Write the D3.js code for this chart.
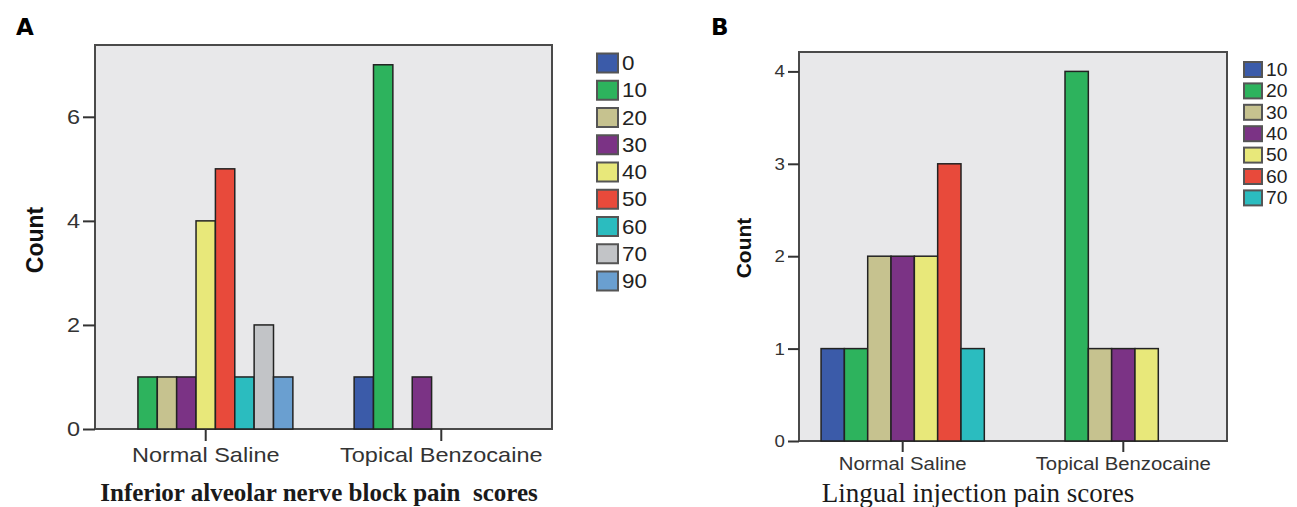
<!DOCTYPE html>
<html><head><meta charset="utf-8">
<script src="https://cdn.jsdelivr.net/npm/d3@7"></script>
<style>html,body{margin:0;padding:0;background:#fff;}svg{display:block;}</style>
</head><body><svg id="c" width="1297" height="507"></svg>
<script>
// ---- data ----
const groups = ["Normal Saline", "Topical Benzocaine"];
const scoresA = ["0", "10", "20", "30", "40", "50", "60", "70", "90"];
const salineA = [0, 1, 1, 1, 4, 5, 1, 2, 1];
const benzoA  = [1, 7, 0, 1, 0, 0, 0, 0, 0];
const ticksA = [0, 2, 4, 6];
const scoresB = ["10", "20", "30", "40", "50", "60", "70"];
const salineB = [1, 1, 2, 2, 2, 3, 1];
const benzoB  = [0, 4, 1, 1, 1, 0, 0];
const ticksB = [0, 1, 2, 3, 4];
const paletteA = ["#3b5ba9","#2db35d","#c6c28f","#7b3385","#e8e87a","#e84a3b","#2bbcbf","#c2c4c7","#6a9fd0"];
const paletteB = ["#3b5ba9","#2db35d","#c6c28f","#7b3385","#e8e87a","#e84a3b","#2bbcbf"];

const svg = d3.select("#c");
const SANS = "Liberation Sans, Arial, sans-serif";

function stretch(sel, sx, origin) {
  sel.style("transform-box", "fill-box").style("transform-origin", origin)
     .style("transform", `scaleX(${sx})`);
}

function panel(cfg) {
  const g = svg.append("g");
  const x0 = d3.scaleBand().domain(groups).range([cfg.left, cfg.right]).paddingInner(0.26).paddingOuter(0.1);
  const x1 = d3.scaleBand().domain(cfg.scores).range([0, x0.bandwidth()]);
  const y = d3.scaleLinear().domain([0, cfg.ymax]).range([cfg.bottom, cfg.top]);
  const color = d3.scaleOrdinal().domain(cfg.scores).range(cfg.palette);

  g.append("rect").attr("x", cfg.left).attr("y", cfg.top)
    .attr("width", cfg.right - cfg.left).attr("height", cfg.bottom - cfg.top)
    .attr("fill", "#e8e8ea").attr("stroke", "#4a4a4a").attr("stroke-width", 2);

  const rows = [];
  groups.forEach((grp, gi) => {
    const vals = gi === 0 ? cfg.saline : cfg.benzo;
    cfg.scores.forEach((s, i) => { if (vals[i] > 0) rows.push({grp, s, v: vals[i]}); });
  });
  g.selectAll("rect.bar").data(rows).join("rect").attr("class", "bar")
    .attr("x", d => x0(d.grp) + x1(d.s))
    .attr("y", d => y(d.v))
    .attr("width", x1.bandwidth())
    .attr("height", d => y(0) - y(d.v))
    .attr("fill", d => color(d.s))
    .attr("stroke", "#222").attr("stroke-width", 1.5);

  // y axis
  const ya = g.append("g").attr("transform", `translate(${cfg.left},0)`)
    .call(d3.axisLeft(y).tickValues(cfg.ticks).tickSize(cfg.tick).tickPadding(3).tickFormat(d3.format("d")));
  ya.select(".domain").remove();
  ya.selectAll("line").attr("stroke", "#333").attr("stroke-width", 2);
  ya.selectAll("text").attr("font-family", SANS)
    .attr("font-size", cfg.tickFont).attr("fill", "#333")
    .call(stretch, cfg.sx, "right center");

  // x axis
  const xa = g.append("g").attr("transform", `translate(0,${cfg.bottom})`)
    .call(d3.axisBottom(x0).tickSize(cfg.tick).tickPadding(cfg.catPad));
  xa.select(".domain").remove();
  xa.selectAll("line").attr("stroke", "#333").attr("stroke-width", 2);
  xa.selectAll("text").attr("font-family", SANS)
    .attr("font-size", cfg.catFont).attr("fill", "#333")
    .call(stretch, cfg.sx, "center center");

  // y title
  g.append("text").attr("transform", `translate(${cfg.countX},${cfg.countY}) rotate(-90)`)
    .attr("text-anchor", "middle").attr("font-family", SANS)
    .attr("font-weight", "bold").attr("font-size", cfg.countFont).attr("fill", "#111").text("Count");

  // x title
  g.append("text").attr("x", cfg.titleX).attr("y", cfg.titleY).attr("text-anchor", "middle")
    .attr("font-family", "Liberation Serif, Times New Roman, serif")
    .attr("font-weight", cfg.titleWeight).attr("font-size", cfg.titleFont).attr("fill", "#1a1a1a")
    .attr("xml:space", "preserve").style("white-space", "pre").text(cfg.title);

  // panel letter
  g.append("text").attr("x", cfg.letterX).attr("y", cfg.letterY)
    .attr("font-family", "DejaVu Sans, sans-serif").attr("font-weight", "bold")
    .attr("font-size", 23).attr("fill", "#000").text(cfg.letter);

  // legend
  const lg = g.append("g");
  cfg.scores.forEach((s, i) => {
    const cy = cfg.legY + i * cfg.legStep;
    lg.append("rect").attr("x", cfg.legX).attr("y", cy - cfg.swH / 2)
      .attr("width", cfg.swW).attr("height", cfg.swH)
      .attr("fill", color(s)).attr("stroke", "#555").attr("stroke-width", 2);
    lg.append("text").attr("x", cfg.legX + cfg.swW + 4).attr("y", cy)
      .attr("dy", "0.36em").attr("font-family", SANS)
      .attr("font-size", cfg.legFont).attr("fill", "#222").text(s)
      .call(stretch, cfg.sx, "left center");
  });
}

panel({
  letter: "A", letterX: 16, letterY: 35, sx: 1.12,
  left: 95, right: 552, top: 45, bottom: 429, ymax: 7.38,
  scores: scoresA, saline: salineA, benzo: benzoA, ticks: ticksA, palette: paletteA,
  tick: 12, tickFont: 21, catFont: 21, catPad: 6,
  countX: 43, countY: 240, countFont: 23,
  title: "Inferior alveolar nerve block pain  scores", titleX: 319, titleY: 501, titleWeight: "bold", titleFont: 25,
  legX: 597, legY: 63, legStep: 27.25, swW: 21, swH: 19, legFont: 20
});

panel({
  letter: "B", letterX: 711, letterY: 35, sx: 1.1,
  left: 799, right: 1227, top: 52, bottom: 441, ymax: 4.21,
  scores: scoresB, saline: salineB, benzo: benzoB, ticks: ticksB, palette: paletteB,
  tick: 11, tickFont: 17, catFont: 18.5, catPad: 5,
  countX: 751, countY: 248, countFont: 21,
  title: "Lingual injection pain scores", titleX: 978, titleY: 502, titleWeight: "normal", titleFont: 27,
  legX: 1244, legY: 69.5, legStep: 21.4, swW: 18, swH: 15, legFont: 17.5
});
</script></body></html>
